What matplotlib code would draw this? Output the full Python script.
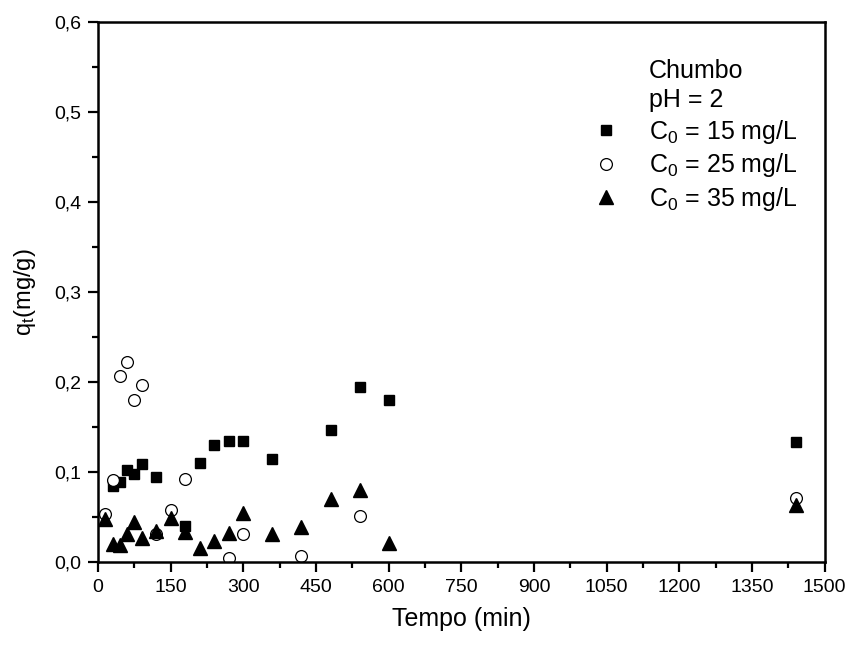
import numpy as np
import matplotlib
matplotlib.use("Agg")
import matplotlib.pyplot as plt
from matplotlib.lines import Line2D
from matplotlib.ticker import MultipleLocator, FuncFormatter

plt.rcParams['font.family'] = ['Liberation Sans', 'DejaVu Sans']
plt.rcParams['mathtext.fontset'] = 'custom'
plt.rcParams['mathtext.rm'] = 'Liberation Sans'
plt.rcParams['mathtext.it'] = 'Liberation Sans'

# Dados (tempo em min, q_t em mg/g)
t_15 = [30, 45, 60, 75, 90, 120, 180, 210, 240, 270, 300, 360, 480, 540, 600, 1440]
q_15 = [0.084, 0.089, 0.102, 0.098, 0.109, 0.095, 0.040, 0.110, 0.130, 0.134,
        0.134, 0.114, 0.147, 0.194, 0.180, 0.133]

t_25 = [15, 30, 45, 60, 75, 90, 120, 150, 180, 270, 300, 420, 540, 1440]
q_25 = [0.053, 0.091, 0.207, 0.222, 0.180, 0.197, 0.031, 0.058, 0.092, 0.004,
        0.031, 0.007, 0.051, 0.071]

t_35 = [15, 30, 45, 60, 75, 90, 120, 150, 180, 210, 240, 270, 300, 360, 420,
        480, 540, 600, 1440]
q_35 = [0.048, 0.020, 0.019, 0.031, 0.044, 0.027, 0.035, 0.049, 0.033, 0.016,
        0.023, 0.032, 0.054, 0.031, 0.039, 0.070, 0.080, 0.021, 0.063]

fig = plt.figure(figsize=(8.52, 6.46), dpi=100)
ax = fig.add_axes([0.115, 0.130, 0.853, 0.836])

ax.plot(t_15, q_15, 's', color='black', markersize=7.5, linestyle='none')
ax.plot(t_25, q_25, 'o', markerfacecolor='white', markeredgecolor='black',
        markeredgewidth=0.9, markersize=8.5, linestyle='none')
ax.plot(t_35, q_35, '^', color='black', markersize=9.5, linestyle='none')

ax.set_xlim(0, 1500)
ax.set_ylim(0, 0.6)
ax.xaxis.set_major_locator(MultipleLocator(150))
ax.xaxis.set_minor_locator(MultipleLocator(75))
ax.yaxis.set_major_locator(MultipleLocator(0.1))
ax.yaxis.set_minor_locator(MultipleLocator(0.05))
ax.yaxis.set_major_formatter(FuncFormatter(lambda v, p: f"{v:.1f}".replace('.', ',')))
ax.xaxis.set_major_formatter(FuncFormatter(lambda v, p: f"{v:.0f}"))

ax.tick_params(which='both', direction='out', width=1.6, labelsize=14)
ax.tick_params(which='major', length=7, pad=5)
ax.tick_params(which='minor', length=4.5)
for s in ax.spines.values():
    s.set_linewidth(1.8)

ax.set_xlabel('Tempo (min)', fontsize=18, labelpad=8)
ax.set_ylabel(r'q$_\mathregular{t}$(mg/g)', fontsize=17, labelpad=12)

vazio = Line2D([], [], linestyle='none', marker='none')
handles = [
    vazio, vazio,
    Line2D([], [], marker='s', color='black', linestyle='none', markersize=7.5),
    Line2D([], [], marker='o', markerfacecolor='white', markeredgecolor='black',
           markeredgewidth=0.9, linestyle='none', markersize=8.5),
    Line2D([], [], marker='^', color='black', linestyle='none', markersize=9.5),
]
labels = ['Chumbo', 'pH = 2',
          r'C$_\mathregular{0}$ = 15 mg/L',
          r'C$_\mathregular{0}$ = 25 mg/L',
          r'C$_\mathregular{0}$ = 35 mg/L']
ax.legend(handles, labels, loc='upper right', bbox_to_anchor=(0.976, 0.95),
          frameon=False, fontsize=18, handlelength=1.0, handletextpad=1.2,
          labelspacing=0.22, borderaxespad=0)

fig.savefig('out.png', dpi=100)
